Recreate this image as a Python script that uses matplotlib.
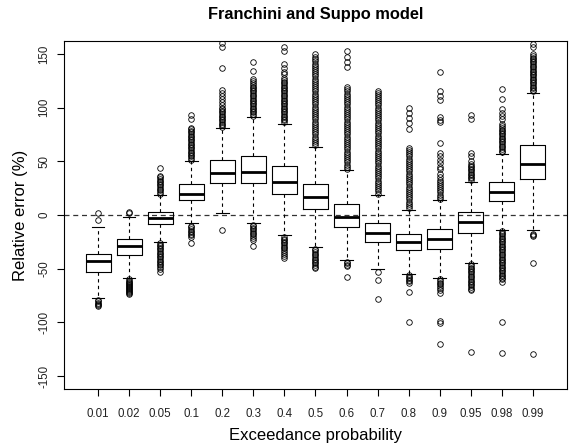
import matplotlib
matplotlib.use("Agg")
import matplotlib.pyplot as plt

plt.rcParams['font.family'] = ['Liberation Sans', 'DejaVu Sans']

categories = ["0.01", "0.02", "0.05", "0.1", "0.2", "0.3", "0.4", "0.5",
              "0.6", "0.7", "0.8", "0.9", "0.95", "0.98", "0.99"]

q1 = [-53.1, -37.5, -8.3, 13.6, 30.0, 29.4, 19.2, 5.8, -11.0, -25.0, -32.9, -31.6, -16.7, 12.6, 33.5]
med = [-43.2, -28.5, -2.6, 19.8, 38.8, 40.0, 30.4, 16.6, -1.7, -16.7, -25.0, -22.3, -6.1, 21.7, 47.2]
q3 = [-36.3, -22.3, 2.6, 28.5, 50.9, 54.7, 45.6, 29.1, 10.4, -7.3, -17.3, -13.2, 2.6, 30.7, 65.3]
whislo = [-77.1, -58.7, -24.8, -7.6, 1.4, -7.6, -19.0, -29.7, -42.2, -50.3, -55.0, -58.7, -44.7, -13.8, -13.8]
whishi = [-11.4, -2.0, 18.9, 50.3, 80.8, 91.0, 84.9, 63.4, 41.9, 18.5, 5.1, 13.8, 31.0, 57.2, 113.6]

fl_001 = [1.4, -4.8, -79.6, -80.5, -81.5, -82.5, -83.5, -85.0]
fl_002 = [3.0, 1.4, -60, -61, -62, -63, -64, -65, -66, -67, -68, -69, -70, -71, -72, -73, -73.7]
fl_005 = [20, 21.5, 23, 24.5, 26, 27.5, 29, 30.5, 32, 33.5, 35, 36.3, 43.8,
          -26, -27.5, -29, -30.5, -32, -33.5, -35, -36.5, -38, -39.5, -41, -42.5,
          -44, -45.5, -47, -48.5, -50, -53]
fl_01 = [51.5, 53, 54.5, 56, 57.5, 59, 60.5, 62, 63.5, 65, 66.5, 68, 69.5, 71, 72.5,
         74, 75.5, 77, 78.5, 80, 81, 89, 93,
         -10, -11.5, -13, -14.5, -16, -17.5, -19, -20.5, -26]
fl_02 = [82, 83.5, 85, 86.5, 88, 89.5, 91, 92.5, 94, 95.5, 97, 98.5, 100, 102, 105,
         108, 111, 114, 116, 137, 156, 160, -13.8]
fl_03 = [92.5, 94, 95.5, 97, 98.5, 100, 101.5, 103, 104.5, 106, 107.5, 109, 110.5,
         112, 113.5, 115, 116.5, 118, 119.5, 121, 123, 125, 127, 134, 142,
         -9, -10.5, -12, -13.5, -15, -16.5, -18, -19.5, -21, -23, -28.5]
fl_04 = [86.5, 88, 89.5, 91, 92.5, 94, 95.5, 97, 98.5, 100, 101.5, 103, 104.5, 106,
         107.5, 109, 110.5, 112, 113.5, 115, 116.5, 118, 119.5, 121, 122.5, 124,
         125.5, 128, 131, 133, 137, 141, 152.5, 156.8,
         -20.5, -22, -23.5, -25, -26.5, -28, -29.5, -31, -32.5, -34, -36, -38, -40]
fl_05 = [65, 67, 69, 71, 73, 75, 77, 79, 81, 83, 85, 87, 89, 91, 93, 95, 97, 99,
         101, 103, 105, 107, 109, 111, 113, 115, 117, 119, 121, 123, 125, 127, 129,
         131, 133, 135, 137, 139, 141, 143, 145, 147, 149.5,
         -31.5, -33, -34.5, -36, -37.5, -39, -40.5, -42, -43.5, -45, -46.5, -48, -49]
fl_06 = [43, 45, 47, 49, 51, 53, 55, 57, 59, 61, 63, 65, 67, 69, 71, 73, 75, 77, 79,
         81, 83, 85, 87, 89, 91, 93, 95, 97, 99, 101, 103, 105, 107, 109, 111, 113,
         115, 117, 119, 137.6, 142, 147, 152.5,
         -43.5, -45, -46.5, -47.8, -57.8]
fl_07 = [20, 22, 24, 26, 28, 30, 32, 34, 36, 38, 40, 42, 44, 46, 48, 50, 52, 54, 56,
         58, 60, 62, 64, 66, 68, 70, 72, 74, 76, 78, 80, 82, 84, 86, 88, 90, 92, 94,
         96, 98, 100, 102, 104, 106, 108, 110, 112, 114, 115.7,
         -53.4, -60.3, -78]
fl_08 = [6.5, 8.5, 10.5, 12.5, 14.5, 16.5, 18.5, 20.5, 22.5, 24.5, 26.5, 28.5, 30.5,
         32.5, 34.5, 36.5, 38.5, 40.5, 42.5, 44.5, 46.5, 48.5, 50.5, 52.5, 54.5, 56.5,
         58.5, 60.5, 62.8, 80.5, 85.5, 90, 94.7, 99.5,
         -56, -57.5, -59, -60.5, -61.5, -63.4, -72, -99.8]
fl_09 = [15, 17, 19, 21, 23, 25, 27, 29, 31, 33, 35, 38, 42.5, 45, 48, 51, 55, 58,
         67.4, 86.7, 88.7, 90.8, 107, 111, 115, 133.5,
         -60, -61.5, -63, -64.5, -66, -68, -70, -72.7, -99, -100.7, -120.4]
fl_095 = [32.5, 34, 35.5, 37, 38.5, 40, 41.5, 43, 44.5, 46, 47.2, 50, 55, 58.1, 89, 93,
          -46, -47.5, -49, -50.5, -52, -53.5, -55, -56.5, -58, -59.5, -61, -62.5, -64,
          -65.5, -67, -68.5, -69.6, -127.9]
fl_098 = [58.5, 60, 61.5, 63, 64.5, 66, 67.5, 69, 70.5, 72, 73.5, 75, 76.5, 78, 79.5,
          81, 82.5, 84.6, 89, 92, 95, 98.6, 108, 117.3,
          -15, -16.5, -18, -19.5, -21, -22.5, -24, -25.5, -27, -28.5, -30, -31.5, -33,
          -34.5, -36, -37.5, -39, -40.5, -42, -43.5, -45, -46.5, -48, -49.5, -51,
          -52.5, -54, -55.5, -57, -58.5, -60, -62, -99.8, -128.8]
fl_099 = [115, 116.5, 118, 119.5, 121, 122.5, 124, 125.5, 127, 128.5, 130, 131.5, 133,
          134.5, 136, 137.5, 139, 140.5, 142, 143.5, 145, 146.5, 148, 150, 156, 159.5,
          -17.3, -18.5, -19.8, -44.7, -129.4]

fliers = [fl_001, fl_002, fl_005, fl_01, fl_02, fl_03, fl_04, fl_05, fl_06,
          fl_07, fl_08, fl_09, fl_095, fl_098, fl_099]

stats = []
for i in range(len(categories)):
    stats.append(dict(q1=q1[i], med=med[i], q3=q3[i], whislo=whislo[i],
                      whishi=whishi[i], fliers=fliers[i], label=categories[i]))

fig = plt.figure(figsize=(5.71, 4.48), dpi=100)
ax = fig.add_axes([64 / 571, 59 / 448, 503 / 571, 348 / 448])

positions = list(range(1, len(categories) + 1))
ax.axhline(0, color='#333333', lw=0.9, ls=(0, (4, 3)), zorder=0)
ax.bxp(stats, positions=positions, widths=0.8, capwidths=0.4,
       boxprops=dict(color='black', lw=0.8),
       medianprops=dict(color='black', lw=2.0),
       whiskerprops=dict(color='black', lw=0.8, ls=(0, (3, 3))),
       capprops=dict(color='black', lw=0.8),
       flierprops=dict(marker='o', mfc='none', mec='black', ms=4, mew=0.6, ls='none'))

ax.set_xlim(-0.1, 16.1)
ax.set_ylim(-162, 162)
ax.set_yticks([-150, -100, -50, 0, 50, 100, 150])
ax.set_yticklabels(["-150", "-100", "-50", "0", "50", "100", "150"], rotation=90, va='center')
ax.set_xticks(positions)
ax.set_xticklabels(categories)
ax.tick_params(axis='x', length=5, width=0.8, labelsize=8.3, pad=9, colors='black')
ax.tick_params(axis='y', length=5, width=0.8, labelsize=8.3, pad=5, colors='black')
for t in ax.get_xticklabels() + ax.get_yticklabels():
    t.set_color('#222222')
for s in ax.spines.values():
    s.set_linewidth(0.8)

ax.set_xlabel("Exceedance probability", fontsize=12)
ax.set_ylabel("Relative error (%)", fontsize=12)
ax.xaxis.set_label_coords((315.5 - 64) / 503, -(435 - 389) / 348)
ax.yaxis.set_label_coords(-(64 - 21) / 503, 0.5)
for lbl in (ax.xaxis.label, ax.yaxis.label):
    lbl.set_va('center')

fig.text(315.5 / 571, 1 - 15 / 448, "Franchini and Suppo model", ha='center',
         va='center', fontsize=11.8, fontweight='bold')

fig.savefig("out.png", dpi=100)
